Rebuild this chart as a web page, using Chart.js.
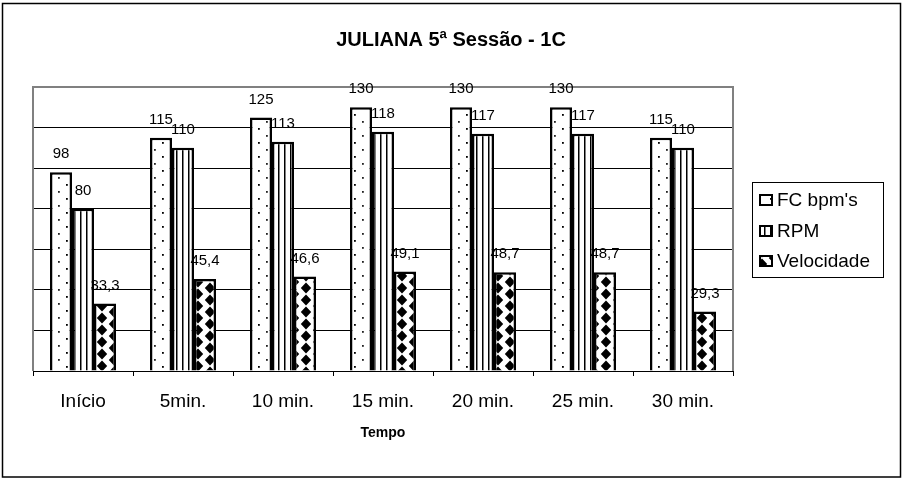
<!DOCTYPE html>
<html><head><meta charset="utf-8">
<script src="https://cdn.jsdelivr.net/npm/chart.js@4.4.0/dist/chart.umd.min.js"></script>
<style>html,body{margin:0;padding:0;background:#fff;overflow:hidden}#wrap{position:relative;width:902px;height:478px}canvas{display:block}</style>
</head><body><div id="wrap"><canvas id="c" width="902" height="478"></canvas></div>
<script>
const categories = ['Início', '5min.', '10 min.', '15 min.', '20 min.', '25 min.', '30 min.'];
const fcBpm = [98, 115, 125, 130, 130, 130, 115];
const rpm = [80, 110, 113, 118, 117, 117, 110];
const velocidade = [33.3, 45.4, 46.6, 49.1, 48.7, 48.7, 29.3];
const seriesNames = ["FC bpm's", 'RPM', 'Velocidade'];
const yMin = 0, yMax = 140, yStep = 20;
const chartTitle = 'JULIANA 5ª Sessão - 1C';
const xTitle = 'Tempo';

const FONT = "'Liberation Sans', Arial, Helvetica, sans-serif";
Chart.defaults.font.family = FONT;
Chart.defaults.color = '#000';

function makePattern(kind) {
  const t = document.createElement('canvas');
  let w, h;
  if (kind === 'dots') { w = 16; h = 14; }
  else if (kind === 'lines') { w = 6; h = 6; }
  else { w = 24; h = 12; }
  t.width = w; t.height = h;
  const g = t.getContext('2d');
  g.fillStyle = '#fff'; g.fillRect(0, 0, w, h);
  g.fillStyle = '#000';
  if (kind === 'dots') {
    g.fillStyle = '#000'; g.fillRect(2, 2, 1.8, 1.8);
    g.fillStyle = '#222'; g.fillRect(10, 9, 1.8, 1.8);
  } else if (kind === 'lines') {
    g.fillRect(2, 0, 1.5, h);
  } else {
    const dia = (cx, cy) => {
      g.beginPath();
      g.moveTo(cx, cy - 5.6); g.lineTo(cx + 5.2, cy); g.lineTo(cx, cy + 5.6); g.lineTo(cx - 5.2, cy);
      g.closePath(); g.fill();
    };
    dia(6, 6); dia(18, 0); dia(18, 12); dia(-6, 0); dia(-6, 12); dia(30, 0); dia(30, 12);
  }
  return document.getElementById('c').getContext('2d').createPattern(t, 'repeat');
}
const patterns = [makePattern('dots'), makePattern('lines'), makePattern('diamonds')];
const seriesValues = [fcBpm, rpm, velocidade];

const fmt = v => (Number.isInteger(v) ? String(v) : v.toFixed(1).replace('.', ','));

const framePlugin = {
  id: 'frame',
  beforeDraw(chart) {
    const c = chart.ctx;
    c.save();
    c.fillStyle = '#fff'; c.fillRect(0, 0, chart.width, chart.height);
    c.restore();
  },
  beforeDatasetsDraw(chart) {
    const c = chart.ctx, a = chart.chartArea;
    c.save();
    c.strokeStyle = '#808080'; c.lineWidth = 2;
    c.beginPath();
    c.moveTo(a.left, a.bottom); c.lineTo(a.left, a.top); c.lineTo(a.right, a.top); c.lineTo(a.right, a.bottom);
    c.stroke();
    c.restore();
  },
  afterDatasetsDraw(chart) {
    const c = chart.ctx;
    c.save();
    c.font = '15px ' + FONT; c.fillStyle = '#000';
    c.textAlign = 'center'; c.textBaseline = 'middle';
    chart.data.datasets.forEach((ds, i) => {
      chart.getDatasetMeta(i).data.forEach((el, j) => {
        c.fillText(fmt(ds.data[j]), el.x, el.y - 18);
      });
    });
    c.restore();
  },
  afterDraw(chart) {
    const c = chart.ctx;
    c.save();
    c.strokeStyle = '#000'; c.lineWidth = 1.5;
    c.strokeRect(2.5, 3.5, 898, 473.5);
    c.lineWidth = 1;
    c.strokeRect(752.5, 182.5, 131, 95);
    const rows = [200, 231, 261];
    c.font = '19px ' + FONT; c.textAlign = 'left'; c.textBaseline = 'middle';
    chart.data.datasets.forEach((ds, i) => {
      const y = rows[i];
      c.fillStyle = ds.backgroundColor;
      c.fillRect(760, y - 5, 12, 10);
      c.strokeStyle = '#000'; c.lineWidth = 2;
      c.strokeRect(760, y - 5, 12, 10);
      c.fillStyle = '#000';
      c.fillText(ds.label, 777, y + 1);
    });
    c.restore();
  }
};

new Chart(document.getElementById('c'), {
  type: 'bar',
  data: {
    labels: categories,
    datasets: seriesNames.map((name, i) => ({
      label: name,
      data: seriesValues[i],
      backgroundColor: patterns[i],
      borderColor: '#000',
      borderWidth: 2.5,
      borderSkipped: 'start',
      categoryPercentage: 0.66,
      barPercentage: 1,
      yAxisID: 'y'
    }))
  },
  options: {
    responsive: false,
    animation: false,
    devicePixelRatio: 1,
    layout: { padding: 0 },
    plugins: {
      legend: { display: false },
      tooltip: { enabled: false },
      title: {
        display: true, text: chartTitle, color: '#000',
        font: { size: 20, weight: 'bold', family: FONT },
        padding: { top: 28, bottom: 35 }
      }
    },
    scales: {
      x: {
        grid: { offset: true, drawOnChartArea: false, drawTicks: true, tickLength: 5, color: '#000' },
        border: { display: true, color: '#000', width: 1 },
        ticks: { font: { size: 19 }, color: '#000', padding: 14 },
        title: { display: true, text: xTitle, color: '#000', font: { size: 14, weight: 'bold' }, padding: { top: 4, bottom: 36.6 } },
        afterFit: s => { s.height = 107; }
      },
      y: {
        position: 'left',
        min: yMin, max: yMax,
        ticks: { display: false, stepSize: yStep },
        grid: { color: '#000', lineWidth: 1, drawTicks: false },
        border: { display: false },
        afterFit: s => { s.width = 33; }
      },
      yRight: {
        position: 'right',
        min: yMin, max: yMax,
        ticks: { display: false },
        grid: { display: false, drawTicks: false },
        border: { display: false },
        afterFit: s => { s.width = 169; }
      }
    }
  },
  plugins: [framePlugin]
});
</script></body></html>
